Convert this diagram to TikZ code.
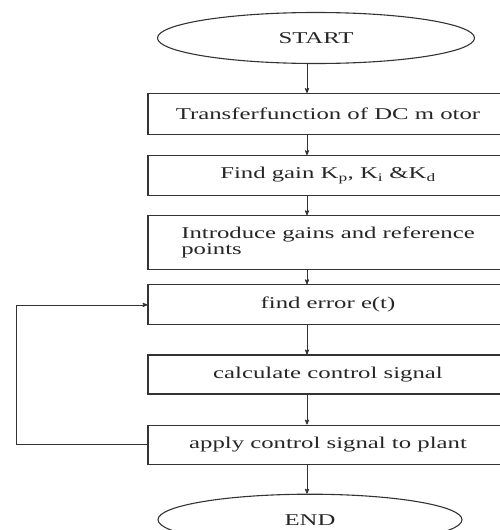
\documentclass[tikz,border=0pt]{standalone}
\usepackage{fontspec}
\setmainfont{Liberation Serif}
\newfontfamily\flowfont[FakeStretch=1.5]{Liberation Serif}
\usetikzlibrary{arrows, positioning, shapes.geometric, calc}

\begin{document}
\begin{tikzpicture}[x=1pt, y=-1pt, >=stealth', font=\flowfont\fontsize{16.5}{16}\selectfont]
  \tikzset{
    stepbox/.style={rectangle, draw=black!80, line width=1.1pt, text=black!85, minimum width=360pt, minimum height=40pt, inner sep=0pt, align=center},
    terminal/.style={ellipse, draw=black!80, line width=1.1pt, text=black!85, minimum width=317pt, minimum height=51pt, inner sep=0pt},
    flowline/.style={->, draw=black!80, line width=0.8pt}
  }
  \useasboundingbox (0,0) rectangle (500,530);
  \clip (0,0) rectangle (500,530);

  % Start and steps
  \node[terminal] (start) at (316,38) {START};
  \node[stepbox, minimum height=41pt, below=29pt of start, xshift=12pt] (motor) {Transferfunction of DC m otor};
  \node[stepbox, below=20pt of motor] (gain) {Find gain K\textsubscript{p}, K\textsubscript{i} \&K\textsubscript{d}};
  \node[stepbox, minimum height=54pt, align=left, below=19pt of gain] (intro) {Introduce gains and reference\\points};
  \node[stepbox, below=14pt of intro] (error) {find error e(t)};
  \node[stepbox, minimum height=39pt, below=29pt of error] (signal) {calculate control signal};
  \node[stepbox, minimum height=39pt, below=30pt of signal] (apply) {apply control signal to plant};
  \node[terminal, minimum width=304pt, below=29pt of apply, xshift=-18pt] (stop) {END};

  % Arrows along the chain
  \coordinate (axis) at (307,0);
  \draw[flowline] (start.south -| axis) -- (motor.north -| axis);
  \draw[flowline] (motor.south -| axis) -- (gain.north -| axis);
  \draw[flowline] (gain.south -| axis) -- (intro.north -| axis);
  \draw[flowline] (intro.south -| axis) -- (error.north -| axis);
  \draw[flowline] (error.south -| axis) -- (signal.north -| axis);
  \draw[flowline] (signal.south -| axis) -- (apply.north -| axis);
  \draw[flowline] (apply.south -| axis) -- (stop.north -| axis);

  % Feedback loop
  \coordinate (loop) at (16,0);
  \draw[flowline] (apply.west) -- (apply.west -| loop) |- (error.west);
\end{tikzpicture}
\end{document}
